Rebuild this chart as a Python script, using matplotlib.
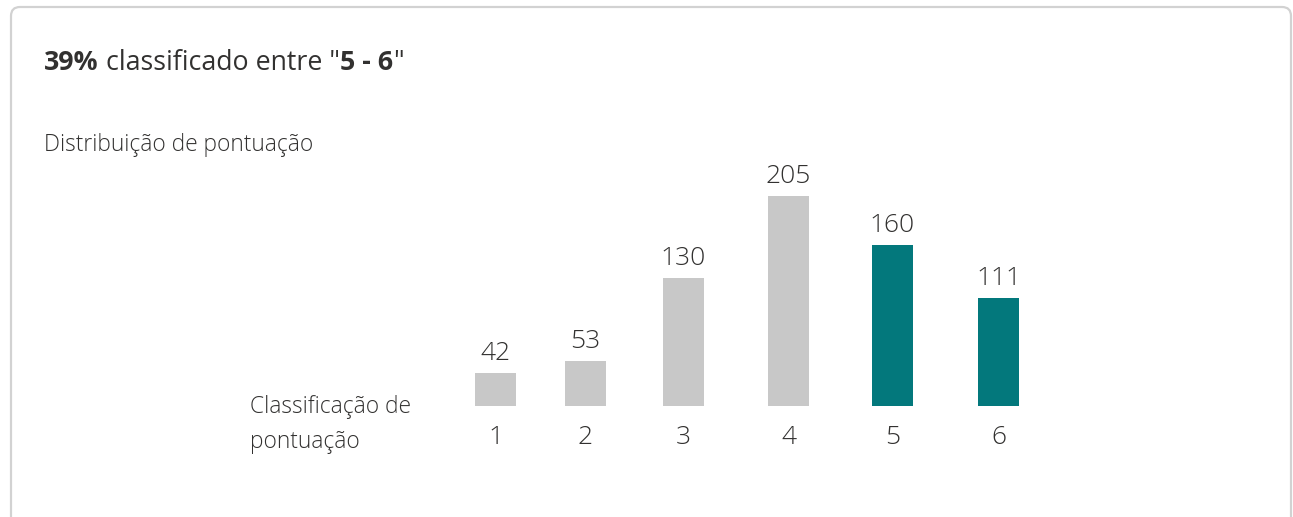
import matplotlib.pyplot as plt
from matplotlib.patches import FancyBboxPatch
from matplotlib.transforms import IdentityTransform

plt.rcParams['font.family'] = ['Open Sans', 'DejaVu Sans']

categories = ["1", "2", "3", "4", "5", "6"]
counts = [42, 53, 130, 205, 160, 111]
highlighted = [False, False, False, False, True, True]

title_parts = [("39%", "bold"), (' classificado entre "', "normal"),
               ("5 - 6", "bold"), ('"', "normal")]
subtitle = "Distribuição de pontuação"
axis_name = "Classificação de\npontuação"

# layout (bar centres, in 100px units from the axes' left edge)
bar_pos = [0.955, 1.855, 2.835, 3.885, 4.925, 5.985]
TEXT = "#323130"
GREY = "#c8c8c8"
TEAL = "#03787c"

W, H = 1293, 517
fig = plt.figure(figsize=(W / 100, H / 100), dpi=100)

# card border
fig.add_artist(FancyBboxPatch((11, -30), 1280, 540,
                              boxstyle="round,pad=0,rounding_size=9",
                              transform=IdentityTransform(),
                              fc="white", ec="#d2d2d2", lw=1.6, zorder=0))

y0 = 12.3
px_per_unit = 1.085
base_px = H - 405.5
top_val = 230
ax = fig.add_axes([400 / W, base_px / H, 700 / W, (top_val - y0) * px_per_unit / H])
ax.set_xlim(0, 7)
ax.set_ylim(y0, top_val)
ax.patch.set_alpha(0)
for s in ax.spines.values():
    s.set_visible(False)

colors = [TEAL if h else GREY for h in highlighted]
bars = ax.bar(bar_pos, counts, width=0.41, color=colors, zorder=2)
for b, v in zip(bars, counts):
    ax.annotate(str(v), (b.get_x() + b.get_width() / 2, v),
                xytext=(0, 9.5), textcoords="offset points",
                ha="center", va="baseline", fontsize=19, fontweight=300,
                color=TEXT)

ax.set_xticks(bar_pos, categories)
ax.tick_params(axis="x", length=0, pad=14, labelsize=19, labelcolor=TEXT)
for lb in ax.get_xticklabels():
    lb.set_fontweight(300)
ax.set_yticks([])

fig.text(250 / W, (H - 448) / H, axis_name, ha="left", va="baseline",
         fontsize=16.4, fontweight=300, color=TEXT, linespacing=1.62)

# title with bold parts, laid out piece by piece
renderer = fig.canvas.get_renderer()
x_px = 44
for txt, wt in title_parts:
    p = fig.text(x_px / W, (H - 70) / H, txt, fontsize=19.3, fontweight=wt,
                 color=TEXT, va="baseline", ha="left")
    x_px = p.get_window_extent(renderer).x1

fig.text(44 / W, (H - 151) / H, subtitle, fontsize=16.4, fontweight=300,
         color=TEXT, va="baseline", ha="left")

fig.savefig("out.png", dpi=100)
